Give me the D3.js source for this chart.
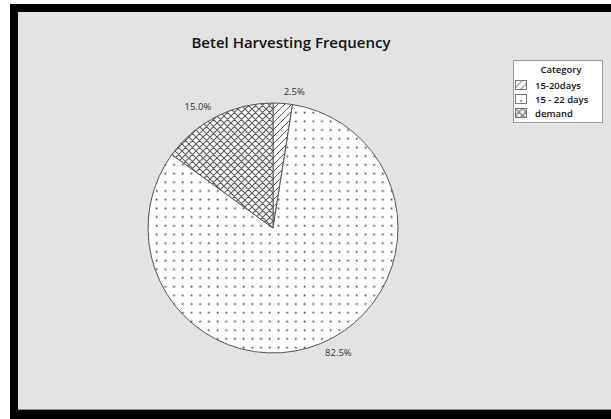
<!DOCTYPE html>
<html>
<head>
<meta charset="utf-8">
<script src="https://cdn.jsdelivr.net/npm/d3@7"></script>
<style>
  html, body { margin: 0; padding: 0; background: #e3e3e3; overflow: hidden; }
  svg { display: block; }
</style>
</head>
<body>
<svg id="chart" width="611" height="419"></svg>
<script>
// Harvesting frequency categories and their shares (%)
const categories = ["15-20days", "15 - 22 days", "demand"];
const shares = [2.5, 82.5, 15.0];
const patternIds = ["hatch", "dots", "cross"];
const chartTitle = "Betel Harvesting Frequency";
const legendTitle = "Category";

const W = 611, H = 419;
const svg = d3.select("#chart");
const font = "'Open Sans', 'Noto Sans', sans-serif";

// Fill patterns
const defs = svg.append("defs");
const hatch = defs.append("pattern").attr("id", "hatch")
  .attr("patternUnits", "userSpaceOnUse").attr("width", 7).attr("height", 7);
hatch.append("rect").attr("width", 7).attr("height", 7).attr("fill", "#fff");
hatch.append("path").attr("d", "M-1,8 L8,-1 M-4.5,3.5 L3.5,-4.5 M3.5,10.5 L10.5,3.5")
  .attr("stroke", "#555").attr("stroke-width", 1);

const dots = defs.append("pattern").attr("id", "dots")
  .attr("patternUnits", "userSpaceOnUse").attr("width", 8.7).attr("height", 8.7)
  .attr("x", 1).attr("y", 2);
dots.append("rect").attr("width", 8.7).attr("height", 8.7).attr("fill", "#fff");
dots.append("rect").attr("x", 3.6).attr("y", 3.6).attr("width", 1.7).attr("height", 1.7).attr("fill", "#444");

const cross = defs.append("pattern").attr("id", "cross")
  .attr("patternUnits", "userSpaceOnUse").attr("width", 7).attr("height", 7);
cross.append("rect").attr("width", 7).attr("height", 7).attr("fill", "#fff");
cross.append("path").attr("d", "M-1,8 L8,-1 M-4.5,3.5 L3.5,-4.5 M3.5,10.5 L10.5,3.5 M-1,-1 L8,8 M-4.5,3.5 L3.5,11.5 M3.5,-4.5 L11.5,3.5")
  .attr("stroke", "#5a5a5a").attr("stroke-width", 1.1);

// Panel with a black frame on the left, top and bottom
svg.append("rect").attr("x", 0).attr("y", 0).attr("width", W).attr("height", H).attr("fill", "#e3e3e3");
svg.append("rect").attr("x", 0).attr("y", 0).attr("width", 10).attr("height", H).attr("fill", "#fff");
svg.append("rect").attr("x", 0).attr("y", 0).attr("width", W).attr("height", 4).attr("fill", "#fff");
svg.append("rect").attr("x", 10).attr("y", 4).attr("width", 8).attr("height", H - 4).attr("fill", "#000");
svg.append("rect").attr("x", 10).attr("y", 4).attr("width", W - 10).attr("height", 8).attr("fill", "#000");
svg.append("rect").attr("x", 10).attr("y", 410).attr("width", W - 10).attr("height", 9).attr("fill", "#000");
svg.append("line").attr("x1", 18).attr("x2", W).attr("y1", 409.5).attr("y2", 409.5)
  .attr("stroke", "#8a8a8a").attr("stroke-width", 1);

// Title
svg.append("text").attr("x", 291).attr("y", 48).attr("text-anchor", "middle")
  .attr("font-family", font).attr("font-size", 15).attr("font-weight", 600)
  .attr("fill", "#111").text(chartTitle);

// Pie
const cx = 273, cy = 228, R = 125;
const pie = d3.pie().sort(null).value(d => d)(shares);
const arc = d3.arc().innerRadius(0).outerRadius(R);
const g = svg.append("g").attr("transform", `translate(${cx},${cy})`);
g.selectAll("path.slice").data(pie).join("path")
  .attr("class", "slice")
  .attr("d", arc)
  .attr("fill", (d, i) => `url(#${patternIds[i]})`)
  .attr("stroke", "#555").attr("stroke-width", 1);

// Percentage labels placed just outside each slice
const labelR = R + 11;
g.selectAll("text.lbl").data(pie).join("text")
  .attr("class", "lbl")
  .each(function(d) {
    const a = (d.startAngle + d.endAngle) / 2;
    const x = labelR * Math.sin(a), y = -labelR * Math.cos(a);
    d3.select(this).attr("x", x).attr("y", y)
      .attr("text-anchor", Math.sin(a) >= 0 ? "start" : "end");
  })
  .attr("dy", "0.3em")
  .attr("font-family", font).attr("font-size", 9.5).attr("fill", "#333")
  .text(d => d.data.toFixed(1) + "%");

// Legend
const lg = svg.append("g").attr("transform", "translate(513,60)");
lg.append("rect").attr("x", 0.5).attr("y", 0.5).attr("width", 89).attr("height", 62)
  .attr("fill", "#fff").attr("stroke", "#999");
lg.append("text").attr("x", 48).attr("y", 13).attr("text-anchor", "middle")
  .attr("font-family", font).attr("font-size", 9.5).attr("font-weight", 600)
  .attr("fill", "#111").text(legendTitle);
const items = lg.selectAll("g.item").data(categories).join("g")
  .attr("class", "item")
  .attr("transform", (d, i) => `translate(2.5,${20.5 + i * 14})`);
items.append("rect").attr("width", 11).attr("height", 9)
  .attr("fill", (d, i) => `url(#${patternIds[i]})`)
  .attr("stroke", "#555").attr("stroke-width", 0.8);
items.append("text").attr("x", 19.5).attr("y", 8)
  .attr("font-family", font).attr("font-size", 9.5).attr("font-weight", 600)
  .attr("fill", "#111").text(d => d);
</script>
</body>
</html>
